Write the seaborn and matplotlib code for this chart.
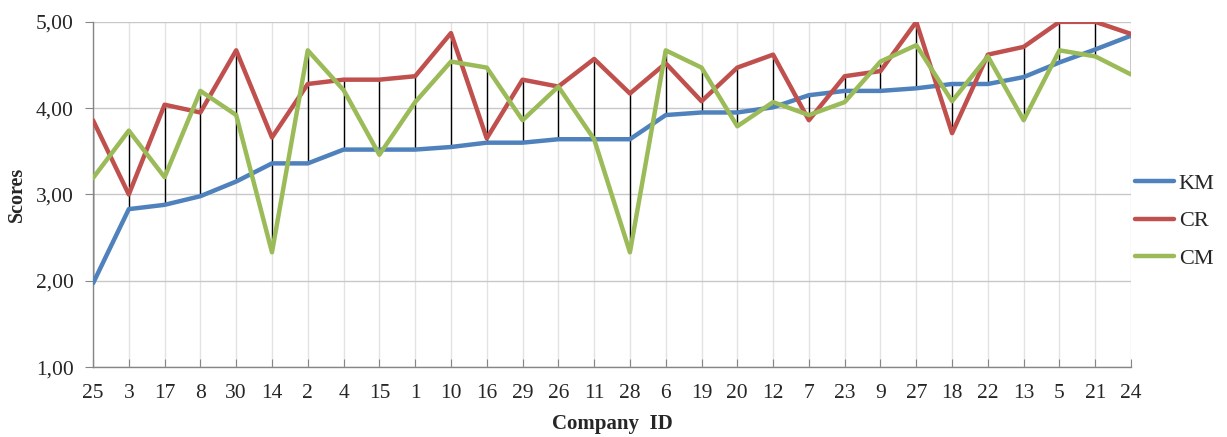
import matplotlib
matplotlib.use("Agg")
import matplotlib.pyplot as plt
from matplotlib.ticker import FuncFormatter, MultipleLocator
import numpy as np
import pandas as pd
import seaborn as sns

# company IDs in plotted order
company_ids = ["25", "3", "17", "8", "30", "14", "2", "4", "15", "1",
               "10", "16", "29", "26", "11", "28", "6", "19", "20", "12",
               "7", "23", "9", "27", "18", "22", "13", "5", "21", "24"]

km = [1.97, 2.83, 2.88, 2.98, 3.15, 3.36, 3.36, 3.52, 3.52, 3.52,
      3.55, 3.60, 3.60, 3.64, 3.64, 3.64, 3.92, 3.95, 3.95, 4.01,
      4.15, 4.20, 4.20, 4.23, 4.28, 4.28, 4.36, 4.53, 4.68, 4.84]
cr = [3.86, 3.00, 4.04, 3.95, 4.67, 3.66, 4.28, 4.33, 4.33, 4.37,
      4.87, 3.65, 4.33, 4.25, 4.57, 4.17, 4.52, 4.08, 4.47, 4.62,
      3.86, 4.37, 4.43, 5.00, 3.71, 4.62, 4.71, 5.00, 5.00, 4.86]
cm = [3.19, 3.74, 3.20, 4.20, 3.92, 2.33, 4.67, 4.21, 3.46, 4.07,
      4.54, 4.47, 3.86, 4.25, 3.64, 2.33, 4.67, 4.47, 3.79, 4.07,
      3.92, 4.07, 4.54, 4.73, 4.08, 4.60, 3.86, 4.67, 4.60, 4.39]

series_names = ["KM", "CR", "CM"]
colors = {"KM": "#4F81BD", "CR": "#C0504D", "CM": "#9BBB59"}

pos = np.arange(len(company_ids))
df = pd.DataFrame({"pos": np.tile(pos, 3),
                   "score": km + cr + cm,
                   "series": np.repeat(series_names, len(company_ids))})

sns.set_style("white")
plt.rcParams["font.family"] = ["Liberation Serif", "DejaVu Serif"]

fig = plt.figure(figsize=(12.27, 4.37), dpi=100)
ax = fig.add_axes([0.0758, 0.160, 0.846, 0.790])

# high-low lines
lo = np.minimum(np.minimum(km, cr), cm)
hi = np.maximum(np.maximum(km, cr), cm)
ax.vlines(pos, lo, hi, color="black", linewidth=1.0, zorder=2)

sns.lineplot(data=df, x="pos", y="score", hue="series", hue_order=series_names,
             palette=colors, linewidth=3.2, ax=ax, zorder=3, legend=True)

ax.set_xlim(0, len(company_ids) - 1)
ax.set_ylim(1, 5)
ax.set_xticks(pos)
ax.set_xticklabels(company_ids)
ax.yaxis.set_major_locator(MultipleLocator(1))
ax.yaxis.set_major_formatter(FuncFormatter(lambda v, p: f"{v:.2f}".replace(".", ",")))

ax.grid(True, axis="x", color="#E3E3E3", linewidth=1.0, zorder=0)
ax.grid(True, axis="y", color="#C8C8C8", linewidth=1.0)
for s in ["top", "right"]:
    ax.spines[s].set_visible(False)
for s in ["left", "bottom"]:
    ax.spines[s].set_color("#868686")
    ax.spines[s].set_linewidth(1.0)
ax.tick_params(axis="both", color="#868686", labelsize=15.5,
               left=True, bottom=True)
ax.tick_params(axis="x", direction="in", length=6, pad=12)
ax.tick_params(axis="y", direction="out", length=6, pad=8)

ax.set_xlabel("Company  ID", fontsize=15, fontweight="bold", labelpad=8)
ax.set_ylabel("Scores", fontsize=14.5, fontweight="bold", labelpad=6)

handles, labels = ax.get_legend_handles_labels()
ax.legend(handles, labels, loc="center left", bbox_to_anchor=(1.0, 0.423),
          frameon=False, fontsize=16, handlelength=1.75, handletextpad=0.2,
          labelspacing=0.75, borderaxespad=0.0, borderpad=0.2)

fig.savefig("out.png", dpi=100)
